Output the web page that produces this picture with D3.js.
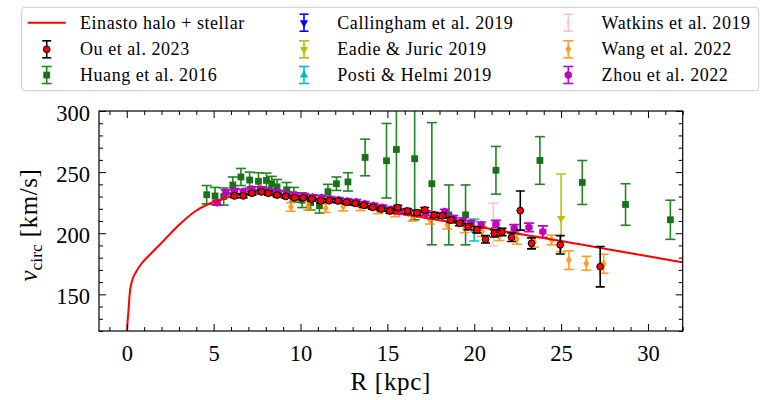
<!DOCTYPE html>
<html>
<head>
<meta charset="utf-8">
<script src="https://cdn.jsdelivr.net/npm/d3@7"></script>
<style>
body { margin: 0; background: #fff; }
text { font-family: "Liberation Serif", "DejaVu Serif", serif; fill: #000; }
</style>
</head>
<body>
<svg width="761" height="400"></svg>
<script>
// ---- values ----

// Einasto halo + stellar model curve
var curveR = [0.0, 0.02, 0.1, 0.17, 0.29, 0.54, 0.83, 1.41, 1.98, 2.94, 3.9, 4.67, 5.44, 6.2, 7.0, 7.75, 8.9, 10.6, 12, 14, 16, 18, 20, 22, 24, 25, 26, 28, 30, 32];
var curveV = [105, 120, 137.2, 150.8, 160.3, 168.5, 174.8, 183.6, 191.8, 205.9, 217.6, 223.7, 227.8, 230.6, 232.2, 232.7, 231.3, 228.6, 225.2, 220.3, 215.5, 210.6, 205.8, 200.9, 196.0, 193.6, 191.1, 186.1, 181.2, 176.2];

// Ou et al. 2023
var ouR = [6.2, 6.7, 7.2, 7.75, 8.15, 8.65, 9.15, 9.65, 10.15, 10.65, 11.15, 11.65, 12.15, 12.65, 13.15, 13.65, 14.15, 14.65, 15.15, 15.6, 16.15, 16.7, 17.15, 17.7, 18.15, 18.65, 19.15, 19.65, 20.15, 20.65, 21.15, 21.6, 22.15, 22.65, 23.3, 24.95, 27.25];
var ouV = [230.5, 230.6, 232.7, 233.8, 232.7, 231.2, 230.1, 229.0, 229.0, 227.9, 226.5, 226.7, 226.4, 225.3, 224.5, 222.8, 221.2, 219.7, 218.2, 220.9, 218.2, 216.8, 219.0, 214.9, 214.3, 210.8, 208.1, 205.3, 202.8, 195.0, 199.9, 201.0, 196.7, 218.5, 191.7, 190.5, 172.6];
var ouE = [1.5, 1.5, 1.5, 1.5, 1.5, 1.5, 1.5, 1.5, 1.5, 1.5, 1.5, 1.5, 1.5, 1.5, 1.5, 1.5, 1.5, 1.5, 2, 2, 2, 2, 2, 2, 2, 2, 2, 2.5, 2.5, 3, 3, 3, 3.5, 16, 4.5, 7.5, 16.5];

// Huang et al. 2016
var huangR = [4.6, 5.08, 5.58, 6.1, 6.57, 7.07, 7.58, 8.04, 8.34, 8.65, 9.2, 9.62, 10.09, 10.58, 11.09, 11.58, 12.07, 12.73, 13.72, 14.95, 15.52, 16.57, 17.56, 18.54, 19.5, 21.25, 23.78, 26.22, 28.71, 31.29];
var huangV = [231.5, 230.5, 230.0, 239.5, 246.0, 243.5, 242.5, 243.2, 240.5, 238.0, 235.5, 231.5, 227.0, 225.0, 222.5, 234.0, 240.5, 242.0, 262.0, 259.3, 268.5, 261.0, 240.5, 215.0, 215.0, 251.5, 259.5, 241.5, 223.5, 211.0];
var huangE = [7.5, 7, 7, 6.5, 7, 6.5, 7, 6, 6, 6, 6, 6, 6, 6, 6, 6, 5.5, 7.5, 15, 30.5, 47, 50, 50, 24.5, 24.5, 19.5, 19.5, 18, 17, 16];

// Callingham et al. 2019 (lies beyond the plotted R range)
var callR = [218];
var callV = [152];
var callE = [10];

// Eadie & Juric 2019 (asymmetric errors)
var eadieR = [25.0];
var eadieV = [212.2];
var eadieLo = [27.3];
var eadieHi = [36.3];

// Posti & Helmi 2019
var postiR = [20.0];
var postiV = [202.6];
var postiE = [9];

// Watkins et al. 2019
var watkR = [21.1];
var watkV = [207.0];
var watkE = [17.5];

// Wang et al. 2022
var wangR = [9.45, 10.45, 11.45, 12.45, 13.45, 14.45, 15.45, 16.45, 17.45, 18.45, 19.45, 20.45, 21.45, 22.45, 23.45, 24.45, 25.45, 26.45, 27.45];
var wangV = [221.5, 222.3, 220.5, 221.7, 222.0, 219.5, 217.0, 213.5, 211.0, 207.0, 204.0, 201.3, 198.0, 195.0, 193.0, 194.5, 178.0, 175.4, 175.0];
var wangE = [3.5, 3.5, 3.5, 3.5, 3.5, 3.5, 3.5, 3.5, 3.5, 3.5, 3.5, 4, 4, 4, 4.5, 4, 7.6, 5.7, 7.8];

// Zhou et al. 2022
var zhouR = [5.2, 5.7, 6.2, 6.7, 7.2, 7.7, 8.2, 8.7, 9.2, 9.7, 10.2, 10.7, 11.2, 11.7, 12.2, 12.7, 13.2, 13.7, 14.2, 14.7, 15.2, 15.7, 16.2, 16.7, 17.2, 17.7, 18.3, 18.8, 19.3, 19.8, 20.4, 21.25, 22.3, 23.15, 23.95];
var zhouV = [225.0, 233.3, 234.5, 234.0, 236.0, 236.0, 234.5, 233.2, 232.0, 231.0, 230.5, 229.5, 229.0, 228.0, 227.2, 226.2, 225.5, 224.0, 222.5, 221.0, 219.5, 217.8, 217.0, 216.0, 216.3, 215.0, 217.6, 212.0, 210.0, 208.0, 206.7, 207.5, 204.0, 204.8, 201.3];
var zhouE = [2, 2, 2, 2, 2, 2, 2, 2, 2, 2, 2, 2, 2, 2, 2, 2, 2, 2, 2, 2, 2, 2, 2, 2, 2, 2, 2, 2.5, 2.5, 2.5, 2.5, 3, 3, 3.5, 4.7];

// axis ticks
var xMajor = [0, 5, 10, 15, 20, 25, 30];
var xMinor = d3.range(-1, 33).filter(function(v) { return v % 5 !== 0; });
var yMajor = [150, 200, 250, 300];
var yMinor = d3.range(120, 301, 10).filter(function(v) { return v % 50 !== 0; });

window.onload = function() {
    makeChart();
}

// custom marker paths
function thinDiamond(s) {
    return "M0," + (-s) + "L" + (s * 0.62) + ",0L0," + s + "L" + (-s * 0.62) + ",0Z";
}
function hexagon(r) {
    var p = [];
    for (var k = 0; k < 6; k++) {
        var a = Math.PI / 2 + k * Math.PI / 3;
        p.push([r * Math.cos(a), r * Math.sin(a)]);
    }
    return "M" + p.map(function(q) { return q[0].toFixed(2) + "," + q[1].toFixed(2); }).join("L") + "Z";
}
function markerPath(kind) {
    if (kind === "square") return d3.symbol().type(d3.symbolSquare).size(46)();
    if (kind === "circle") return d3.symbol().type(d3.symbolCircle).size(36)();
    if (kind === "diamond") return thinDiamond(4.6);
    if (kind === "hex") return hexagon(4.2);
    if (kind === "tri") return d3.symbol().type(d3.symbolTriangle).size(30)();
    if (kind === "dot") return d3.symbol().type(d3.symbolCircle).size(8)();
    return "";
}

var series = [
    { name: "Ou et al. 2023", R: ouR, V: ouV, lo: ouE, hi: ouE, color: "#000", fill: "#ff0000", edge: "#000", marker: "circle", cap: 4.5, alpha: 1 },
    { name: "Huang et al. 2016", R: huangR, V: huangV, lo: huangE, hi: huangE, color: "#0b770b", fill: "#006400", marker: "square", cap: 5, alpha: 0.9 },
    { name: "Callingham et al. 2019", R: callR, V: callV, lo: callE, hi: callE, color: "#0000ff", fill: "#0000ff", marker: "tri", rot: 180, cap: 4.5, alpha: 1 },
    { name: "Eadie & Juric 2019", R: eadieR, V: eadieV, lo: eadieLo, hi: eadieHi, color: "#bfbf00", fill: "#bfbf00", marker: "tri", rot: 180, cap: 5, alpha: 1 },
    { name: "Posti & Helmi 2019", R: postiR, V: postiV, lo: postiE, hi: postiE, color: "#00bfbf", fill: "#00bfbf", marker: "tri", rot: 0, cap: 5, alpha: 1 },
    { name: "Watkins et al. 2019", R: watkR, V: watkV, lo: watkE, hi: watkE, color: "#ffc0cb", fill: "#ffc0cb", marker: "dot", cap: 5, alpha: 1 },
    { name: "Wang et al. 2022", R: wangR, V: wangV, lo: wangE, hi: wangE, color: "#ff8c00", fill: "#ff8c00", marker: "diamond", cap: 5, alpha: 0.85 },
    { name: "Zhou et al. 2022", R: zhouR, V: zhouV, lo: zhouE, hi: zhouE, color: "#bf00bf", fill: "#bf00bf", marker: "hex", cap: 5, alpha: 1 }
];

function makeChart() {

    var svg = d3.select("svg");

    var margin = { top: 111, right: 78.3, bottom: 69, left: 99 };
    var width = +svg.attr("width") - margin.left - margin.right;
    var height = +svg.attr("height") - margin.top - margin.bottom;

    var x = d3.scaleLinear().domain([-1.6, 32]).range([0, width]);
    var y = d3.scaleLinear().domain([120, 300]).range([height, 0]);

    svg.append("defs").append("clipPath").attr("id", "plotclip")
        .append("rect").attr("width", width).attr("height", height);

    var g = svg.append("g")
        .attr("transform", "translate(" + margin.left + "," + margin.top + ")");

    var plot = g.append("g").attr("clip-path", "url(#plotclip)");

    // draw one errorbar series
    function drawSeries(s) {
        var pts = s.R.map(function(r, i) {
            return { r: r, v: s.V[i], lo: s.lo[i], hi: s.hi[i] };
        });
        var grp = plot.append("g").attr("opacity", s.alpha);
        grp.selectAll(".eb").data(pts).enter().append("line")
            .attr("x1", function(d) { return x(d.r); })
            .attr("x2", function(d) { return x(d.r); })
            .attr("y1", function(d) { return y(d.v - d.lo); })
            .attr("y2", function(d) { return y(d.v + d.hi); })
            .attr("stroke", s.color).attr("stroke-width", 1.6);
        ["lo", "hi"].forEach(function(side) {
            grp.selectAll(".cap" + side).data(pts).enter().append("line")
                .attr("x1", function(d) { return x(d.r) - s.cap; })
                .attr("x2", function(d) { return x(d.r) + s.cap; })
                .attr("y1", function(d) { return y(side === "lo" ? d.v - d.lo : d.v + d.hi); })
                .attr("y2", function(d) { return y(side === "lo" ? d.v - d.lo : d.v + d.hi); })
                .attr("stroke", s.color).attr("stroke-width", 1.6);
        });
        grp.selectAll(".mk").data(pts).enter().append("path")
            .attr("d", markerPath(s.marker))
            .attr("transform", function(d) {
                return "translate(" + x(d.r) + "," + y(d.v) + ")" + (s.rot ? " rotate(" + s.rot + ")" : "");
            })
            .attr("fill", s.fill)
            .attr("stroke", s.edge || "none")
            .attr("stroke-width", s.edge ? 1 : 0);
    }

    // everything except Ou, then the model curve, then Ou on top
    series.slice(1).forEach(drawSeries);

    var line = d3.line()
        .x(function(d) { return x(d[0]); })
        .y(function(d) { return y(d[1]); })
        .curve(d3.curveMonotoneX);

    plot.append("path")
        .datum(curveR.map(function(r, i) { return [r, curveV[i]]; }))
        .attr("d", line)
        .attr("fill", "none")
        .attr("stroke", "#ff0000")
        .attr("stroke-width", 2);

    drawSeries(series[0]);

    // ---- axes (ticks pointing inwards on all four sides) ----
    function clean(sel) {
        sel.select(".domain").remove();
        sel.selectAll(".tick line").attr("stroke", "#000").attr("stroke-width", 1);
        sel.selectAll("text").style("font-family", "'Liberation Serif', serif").style("font-size", "22.5px").attr("fill", "#000");
    }

    g.append("g").attr("transform", "translate(0," + height + ")")
        .call(d3.axisBottom(x).tickValues(xMajor).tickSize(-7).tickPadding(14).tickFormat(d3.format("d")))
        .call(clean);
    g.append("g").attr("transform", "translate(0," + height + ")")
        .call(d3.axisBottom(x).tickValues(xMinor).tickSize(-4).tickFormat(""))
        .call(clean);
    g.append("g")
        .call(d3.axisTop(x).tickValues(xMajor).tickSize(-7).tickFormat(""))
        .call(clean);
    g.append("g")
        .call(d3.axisTop(x).tickValues(xMinor).tickSize(-4).tickFormat(""))
        .call(clean);

    var yAx = g.append("g")
        .call(d3.axisLeft(y).tickValues(yMajor).tickSize(-7).tickPadding(9).tickFormat(d3.format("d")))
        .call(clean);
    yAx.selectAll("text").attr("dy", "0.4em");
    g.append("g")
        .call(d3.axisLeft(y).tickValues(yMinor).tickSize(-4).tickFormat(""))
        .call(clean);
    g.append("g").attr("transform", "translate(" + width + ",0)")
        .call(d3.axisRight(y).tickValues(yMajor).tickSize(-7).tickFormat(""))
        .call(clean);
    g.append("g").attr("transform", "translate(" + width + ",0)")
        .call(d3.axisRight(y).tickValues(yMinor).tickSize(-4).tickFormat(""))
        .call(clean);

    // frame
    g.append("rect")
        .attr("width", width).attr("height", height)
        .attr("fill", "none").attr("stroke", "#000").attr("stroke-width", 1.2);

    // axis labels
    g.append("text")
        .attr("x", width / 2).attr("y", height + 59)
        .attr("text-anchor", "middle")
        .style("font-size", "25px").style("letter-spacing", "0.7px")
        .text("R [kpc]");

    var yl = svg.append("text")
        .attr("transform", "translate(37,225) rotate(-90)")
        .attr("text-anchor", "middle")
        .style("font-size", "25px");
    yl.append("tspan").style("font-style", "italic").text("v");
    yl.append("tspan").attr("dy", 5).style("font-size", "17.5px").text("circ");
    yl.append("tspan").attr("dy", -5).style("letter-spacing", "0.6px").text(" [km/s]");

    // ---- legend ----
    var leg = svg.append("g");
    leg.append("rect")
        .attr("x", 21.7).attr("y", 7.3).attr("width", 737).attr("height", 83.4).attr("rx", 3)
        .attr("fill", "#fff").attr("fill-opacity", 0.8)
        .attr("stroke", "#cccccc").attr("stroke-width", 1);

    var colX = [27.7, 285, 549.3];
    var rowY = [22.7, 49.3, 75];
    var entries = [{ name: "Einasto halo + stellar", line: true }].concat(series);

    entries.forEach(function(e, i) {
        var col = Math.floor(i / 3), row = i % 3;
        var hx = colX[col], cy = rowY[row], cx = hx + 19;
        var item = leg.append("g");
        if (e.line) {
            item.append("line")
                .attr("x1", hx).attr("x2", hx + 38).attr("y1", cy).attr("y2", cy)
                .attr("stroke", "#ff0000").attr("stroke-width", 2);
        } else {
            var h = 8.5;
            item.attr("opacity", e.alpha);
            item.append("line").attr("x1", cx).attr("x2", cx).attr("y1", cy - h).attr("y2", cy + h)
                .attr("stroke", e.color).attr("stroke-width", 1.6);
            [cy - h, cy + h].forEach(function(yy) {
                item.append("line").attr("x1", cx - e.cap).attr("x2", cx + e.cap).attr("y1", yy).attr("y2", yy)
                    .attr("stroke", e.color).attr("stroke-width", 1.6);
            });
            item.append("path")
                .attr("d", markerPath(e.marker))
                .attr("transform", "translate(" + cx + "," + cy + ")" + (e.rot ? " rotate(" + e.rot + ")" : ""))
                .attr("fill", e.fill)
                .attr("stroke", e.edge || "none")
                .attr("stroke-width", e.edge ? 1 : 0);
        }
        leg.append("text")
            .attr("x", hx + 52.3).attr("y", cy + 6)
            .style("font-size", "18px").style("letter-spacing", "0.55px")
            .text(e.name);
    });
}
</script>
</body>
</html>
